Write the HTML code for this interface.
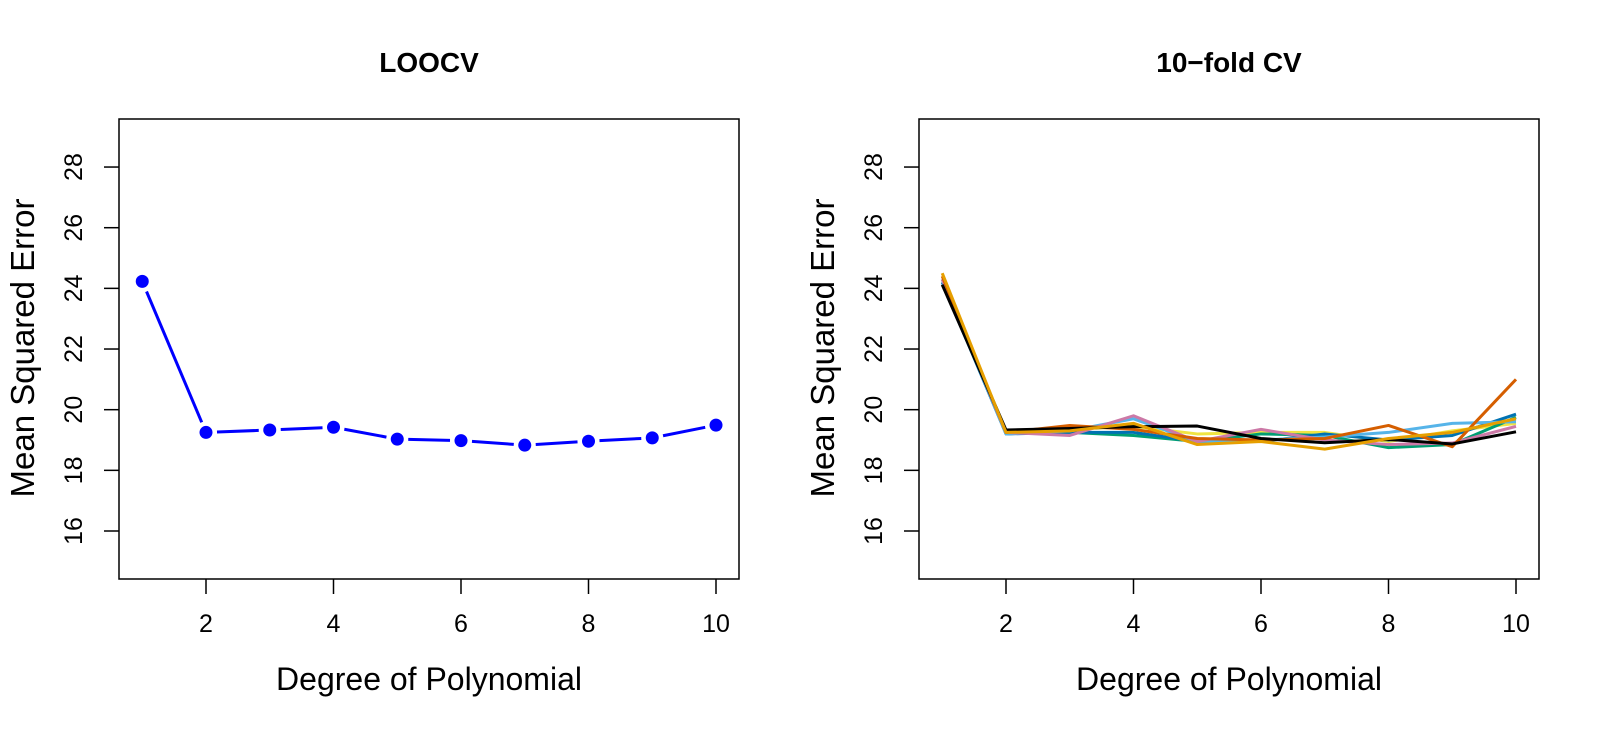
<!DOCTYPE html>
<html><head><meta charset="utf-8"><style>
html,body{margin:0;padding:0;background:#fff}
svg{display:block;font-family:"Liberation Sans",sans-serif}
</style></head><body>
<svg id="s" width="1603" height="731" viewBox="0 0 1603 731" xmlns="http://www.w3.org/2000/svg"></svg>
<script>
var s=document.getElementById('s'),h='';
function xp(o,d){return o+142.25+(d-1)*63.75;}
function yp(v){return 531-(v-16)*30.33;}
function panel(o,title){
 h+='<rect x="'+(119+o)+'" y="119" width="620" height="460" fill="none" stroke="#000" stroke-width="1.5"/>';
 h+='<text x="'+(429+o)+'" y="72" font-size="28" font-weight="bold" text-anchor="middle">'+title+'</text>';
 h+='<text x="'+(429+o)+'" y="690" font-size="32" text-anchor="middle">Degree of Polynomial</text>';
 h+='<text transform="translate('+(34+o)+',348) rotate(-90)" font-size="33" text-anchor="middle">Mean Squared Error</text>';
 for(var d=2;d<=10;d+=2){var x=xp(o,d);h+='<line x1="'+x+'" y1="579" x2="'+x+'" y2="594" stroke="#000" stroke-width="1.5"/><text x="'+x+'" y="632" font-size="25" text-anchor="middle">'+d+'</text>';}
 for(var v=16;v<=28;v+=2){var y=yp(v);h+='<line x1="'+(104+o)+'" y1="'+y+'" x2="'+(119+o)+'" y2="'+y+'" stroke="#000" stroke-width="1.5"/><text transform="translate('+(82+o)+','+y+') rotate(-90)" font-size="25" text-anchor="middle">'+v+'</text>';}
}
panel(0,'LOOCV');panel(800,'10\u2212fold CV');
var L=[24.23,19.25,19.33,19.42,19.03,18.98,18.83,18.96,19.07,19.49];
for(var i=0;i<9;i++){var x1=xp(0,i+1),y1=yp(L[i]),x2=xp(0,i+2),y2=yp(L[i+1]);var dx=x2-x1,dy=y2-y1,l=Math.sqrt(dx*dx+dy*dy),g=11;
 h+='<line x1="'+(x1+dx*g/l)+'" y1="'+(y1+dy*g/l)+'" x2="'+(x2-dx*g/l)+'" y2="'+(y2-dy*g/l)+'" stroke="#0000ff" stroke-width="3"/>';}
for(var i=0;i<10;i++)h+='<circle cx="'+xp(0,i+1)+'" cy="'+yp(L[i])+'" r="6.5" fill="#0000ff"/>';
var R=[
['#F0E442',[24.3,19.3,19.35,19.45,19.2,19.25,19.25,18.95,19.3,19.55]],
['#009E73',[24.3,19.25,19.25,19.15,18.95,19.2,19.15,18.75,18.85,19.75]],
['#0072B2',[24.2,19.2,19.25,19.25,18.95,18.95,19.2,19.0,19.15,19.85]],
['#56B4E9',[24.3,19.2,19.3,19.7,18.95,19.0,19.1,19.25,19.55,19.6]],
['#CC79A7',[24.3,19.25,19.15,19.8,18.95,19.35,19.0,18.85,18.9,19.45]],
['#D55E00',[24.4,19.25,19.48,19.35,19.05,19.0,19.05,19.48,18.78,21.0]],
['#000000',[24.12,19.33,19.38,19.44,19.46,19.05,18.91,19.02,18.87,19.27]],
['#E69F00',[24.5,19.25,19.3,19.55,18.85,18.95,18.7,19.05,19.25,19.7]]];
R.forEach(function(r){var p=r[1].map(function(v,i){return xp(800,i+1)+','+yp(v);}).join(' ');
 h+='<polyline points="'+p+'" fill="none" stroke="'+r[0]+'" stroke-width="3" stroke-linejoin="round"/>';});
s.innerHTML=h;
</script>
</body></html>
